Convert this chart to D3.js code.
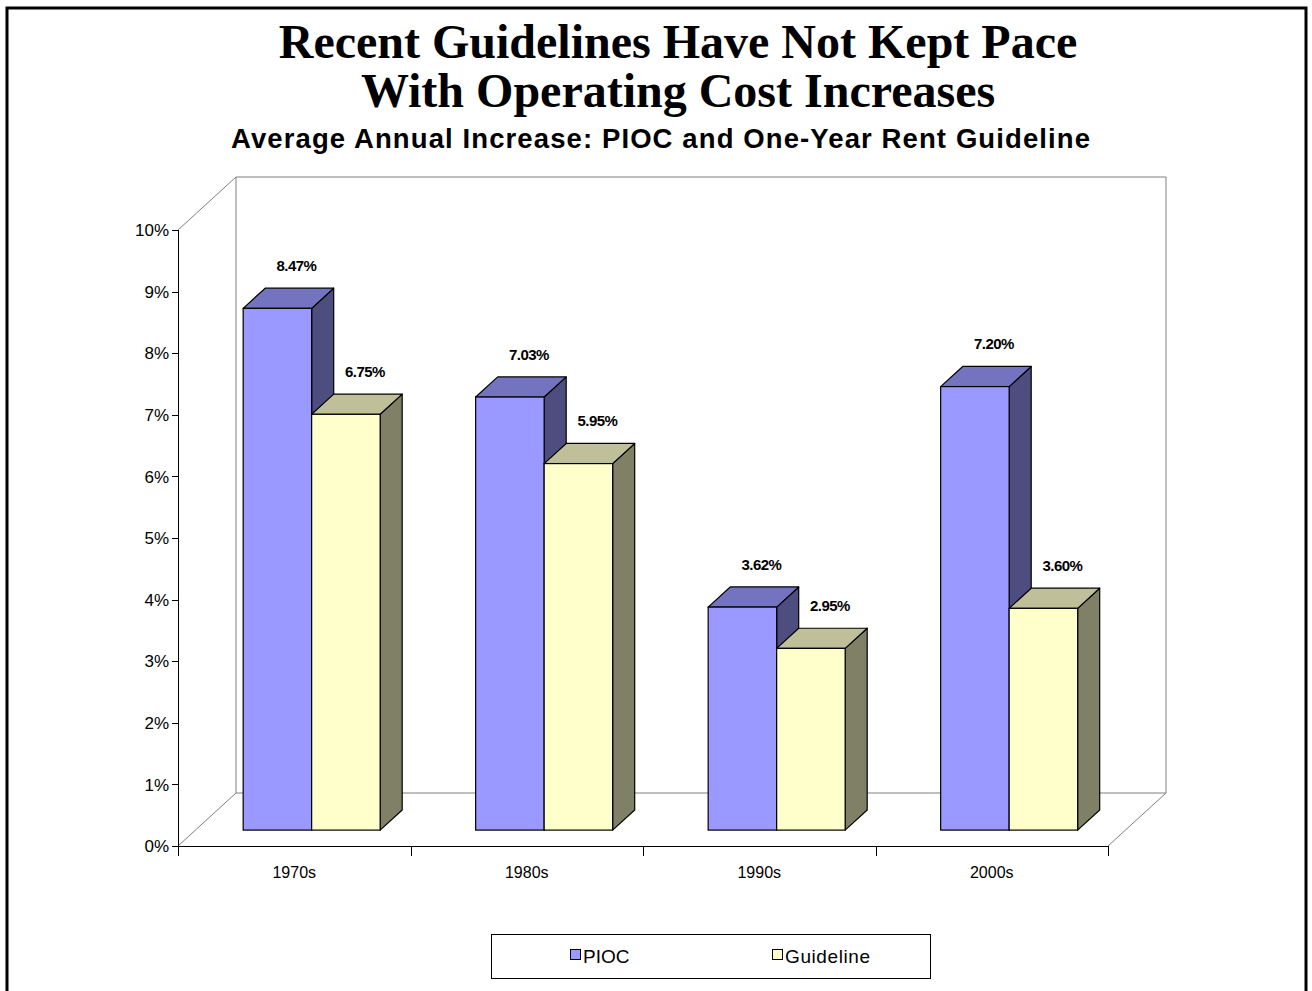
<!DOCTYPE html>
<html>
<head>
<meta charset="utf-8">
<script src="https://cdn.jsdelivr.net/npm/d3@7"></script>
<style>
  html, body { margin: 0; padding: 0; background: #fff; }
  svg { display: block; }
  text { font-family: "Liberation Sans", Arial, sans-serif; }
</style>
</head>
<body>
<svg id="chart" width="1312" height="991"></svg>
<script>
// ---- Data ----
const categories = ["1970s", "1980s", "1990s", "2000s"];
const seriesNames = ["PIOC", "Guideline"];
const pioc = [8.47, 7.03, 3.62, 7.20];
const guideline = [6.75, 5.95, 2.95, 3.60];
const yTicks = [0, 1, 2, 3, 4, 5, 6, 7, 8, 9, 10];
const titleLines = ["Recent Guidelines Have Not Kept Pace", "With Operating Cost Increases"];
const subtitle = "Average Annual Increase: PIOC and One-Year Rent Guideline";

const seriesValues = [pioc, guideline];
const faceColors = {
  PIOC:      { front: "#9999FF", top: "#7373BF", side: "#4D4D80" },
  Guideline: { front: "#FFFFCC", top: "#BFBF99", side: "#808066" }
};

const svg = d3.select("#chart");

// outer frame
svg.append("rect").attr("x", 7).attr("y", 8).attr("width", 1299).attr("height", 1000)
  .attr("fill", "none").attr("stroke", "#000").attr("stroke-width", 3);

// titles (one multi-line text)
const title = svg.append("text")
  .attr("text-anchor", "middle")
  .style("font-family", "'Liberation Serif', 'Times New Roman', serif")
  .style("font-weight", "bold").style("font-size", "48px");
title.selectAll("tspan").data(titleLines).join("tspan")
  .attr("x", 678).attr("y", (d, i) => 58 + i * 49)
  .text(d => d);

svg.append("text").attr("x", 660.5).attr("y", 148).attr("text-anchor", "middle")
  .attr("textLength", 859).attr("lengthAdjust", "spacing")
  .style("font-weight", "bold").style("font-size", "27.5px")
  .text(subtitle);

// ---- Scales ----
const x0 = 178, x1 = 1108;
const x = d3.scaleBand().domain(categories).range([x0, x1]).padding(0);
const y = d3.scaleLinear().domain([0, 10]).range([846, 230]);
const depth = { dx: 58, dy: -53 };
const barW = 68.5;
const xs = d3.scaleBand().domain(seriesNames).range([-barW, barW]).padding(0);
const f0 = 0.30, f1 = 0.68; // bar depth position as fraction of floor depth
const off0 = { dx: depth.dx * f0, dy: depth.dy * f0 };
const bdx = depth.dx * (f1 - f0), bdy = depth.dy * (f1 - f0);

const g = svg.append("g");
const wall = "#808080";

// back wall and side wall / floor outlines
const p = (a, b) => a + "," + b;
const yTop = y(10), yBase = y(0);
g.append("polyline")
  .attr("points", [p(x0, yTop), p(x0 + depth.dx, yTop + depth.dy), p(x1 + depth.dx, yTop + depth.dy),
                   p(x1 + depth.dx, yBase + depth.dy), p(x1, yBase)].join(" "))
  .attr("fill", "none").attr("stroke", wall).attr("stroke-width", 1);
g.append("polyline")
  .attr("points", [p(x0 + depth.dx, yTop + depth.dy), p(x0 + depth.dx, yBase + depth.dy), p(x1 + depth.dx, yBase + depth.dy)].join(" "))
  .attr("fill", "none").attr("stroke", wall).attr("stroke-width", 1);
g.append("line")
  .attr("x1", x0).attr("y1", yBase).attr("x2", x0 + depth.dx).attr("y2", yBase + depth.dy)
  .attr("stroke", wall).attr("stroke-width", 1);

// axes
g.append("line").attr("x1", x0 + 0.5).attr("x2", x0 + 0.5).attr("y1", yTop).attr("y2", yBase)
  .attr("stroke", "#000");
g.append("line").attr("x1", x0).attr("x2", x1).attr("y1", yBase + 0.5).attr("y2", yBase + 0.5)
  .attr("stroke", "#000");

g.selectAll("line.ytick").data(yTicks).join("line").attr("class", "ytick")
  .attr("x1", x0 - 6).attr("x2", x0).attr("y1", d => Math.round(y(d)) + 0.5).attr("y2", d => Math.round(y(d)) + 0.5)
  .attr("stroke", "#000");
g.selectAll("text.ylab").data(yTicks).join("text").attr("class", "ylab")
  .attr("x", x0 - 9).attr("y", d => y(d)).attr("dy", "0.36em")
  .attr("text-anchor", "end").style("font-size", "17px")
  .text(d => d + "%");

const xBounds = categories.map(c => x(c)).concat([x1]);
g.selectAll("line.xtick").data(xBounds).join("line").attr("class", "xtick")
  .attr("x1", d => Math.round(d) + 0.5).attr("x2", d => Math.round(d) + 0.5)
  .attr("y1", yBase).attr("y2", yBase + 10).attr("stroke", "#000");
g.selectAll("text.xlab").data(categories).join("text").attr("class", "xlab")
  .attr("x", d => x(d) + x.bandwidth() / 2).attr("y", 878)
  .attr("text-anchor", "middle").style("font-size", "16px")
  .text(d => d);

// ---- Bars ----
const bars = [];
categories.forEach((c, i) => {
  seriesNames.forEach((s, j) => {
    bars.push({ cat: c, series: s, value: seriesValues[j][i] });
  });
});

const barG = g.selectAll("g.bar").data(bars).join("g").attr("class", "bar");
function geom(d) {
  const xl = x(d.cat) + x.bandwidth() / 2 + xs(d.series) + off0.dx;
  const xr = xl + xs.bandwidth();
  const yb = y(0) + off0.dy;
  const yt = y(d.value) + off0.dy;
  return { xl, xr, yb, yt };
}
barG.append("polygon") // side
  .attr("points", d => { const q = geom(d);
    return [p(q.xr, q.yt), p(q.xr + bdx, q.yt + bdy), p(q.xr + bdx, q.yb + bdy), p(q.xr, q.yb)].join(" "); })
  .attr("fill", d => faceColors[d.series].side).attr("stroke", "#000").attr("stroke-width", 1.2)
  .attr("stroke-linejoin", "round");
barG.append("polygon") // top
  .attr("points", d => { const q = geom(d);
    return [p(q.xl, q.yt), p(q.xl + bdx, q.yt + bdy), p(q.xr + bdx, q.yt + bdy), p(q.xr, q.yt)].join(" "); })
  .attr("fill", d => faceColors[d.series].top).attr("stroke", "#000").attr("stroke-width", 1.2)
  .attr("stroke-linejoin", "round");
barG.append("rect") // front
  .attr("x", d => geom(d).xl).attr("y", d => geom(d).yt)
  .attr("width", xs.bandwidth()).attr("height", d => geom(d).yb - geom(d).yt)
  .attr("fill", d => faceColors[d.series].front).attr("stroke", "#000").attr("stroke-width", 1.2);

// value labels
g.selectAll("text.vlab").data(bars).join("text").attr("class", "vlab")
  .attr("x", d => { const q = geom(d); return (q.xl + q.xr) / 2 + bdx / 2 + 8; })
  .attr("y", d => geom(d).yt + bdy - 17)
  .attr("text-anchor", "middle")
  .style("font-weight", "bold").style("font-size", "15px").style("letter-spacing", "-0.5px")
  .text(d => d.value.toFixed(2) + "%");

// ---- Legend ----
const lg = svg.append("g");
lg.append("rect").attr("x", 491.5).attr("y", 934.5).attr("width", 439).attr("height", 44)
  .attr("fill", "#fff").attr("stroke", "#000").attr("stroke-width", 1);
const legendX = d3.scaleOrdinal().domain(seriesNames).range([570, 772]);
const li = lg.selectAll("g.li").data(seriesNames).join("g").attr("class", "li")
  .attr("transform", d => `translate(${legendX(d)},0)`);
li.append("rect").attr("x", 0.5).attr("y", 949.5).attr("width", 10).attr("height", 10)
  .attr("fill", d => faceColors[d].front).attr("stroke", "#000");
li.append("text").attr("x", 13).attr("y", 963).style("font-size", "19px")
  .style("letter-spacing", d => d === "Guideline" ? "0.6px" : "0px")
  .text(d => d);
</script>
</body>
</html>
